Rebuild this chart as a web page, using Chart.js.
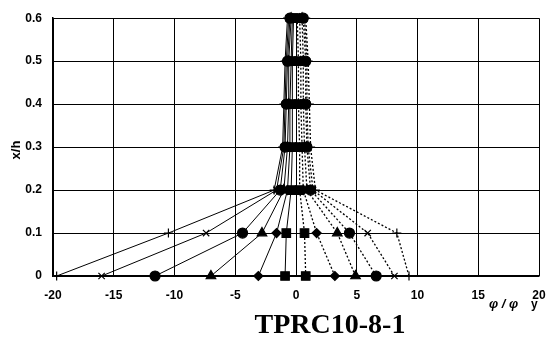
<!DOCTYPE html>
<html>
<head>
<meta charset="utf-8">
<script src="https://cdn.jsdelivr.net/npm/chart.js@4/dist/chart.umd.min.js"></script>
<style>
  html, body { margin: 0; padding: 0; background: #fff; }
  #wrap { width: 559px; height: 338px; position: relative; }
</style>
</head>
<body>
<div id="wrap"><canvas id="chart"></canvas></div>
<script>
// 高さ位置 x/h
const heights = [0, 0.1, 0.2, 0.3, 0.4, 0.5, 0.6];

// 曲率分布 φ/φy (負側：実線)
const negCross   = [-19.7, -10.5, -1.8, -1.1, -1.0, -0.9, -0.7];
const negX       = [-16.0, -7.4, -1.6, -1.0, -0.9, -0.8, -0.6];
const negCircle  = [-11.6, -4.4, -1.3, -0.9, -0.8, -0.7, -0.5];
const negTri     = [-7.0, -2.8, -1.0, -0.7, -0.6, -0.6, -0.4];
const negDiamond = [-3.1, -1.6, -0.7, -0.5, -0.5, -0.4, -0.3];
const negSquare  = [-0.9, -0.8, -0.4, -0.3, -0.3, -0.3, -0.2];

// 曲率分布 φ/φy (正側：点線)
const posSquare  = [0.8, 0.7, 0.3, 0.3, 0.2, 0.2, 0.1];
const posDiamond = [3.2, 1.7, 0.6, 0.5, 0.4, 0.4, 0.3];
const posTri     = [4.9, 3.4, 0.9, 0.7, 0.6, 0.6, 0.5];
const posCircle  = [6.6, 4.4, 1.2, 0.9, 0.8, 0.8, 0.6];
const posX       = [8.1, 5.9, 1.4, 1.0, 0.9, 0.9, 0.7];
const posCross   = [9.3, 8.3, 1.6, 1.2, 1.1, 1.0, 0.8];

const xTicks = [-20, -15, -10, -5, 0, 5, 10, 15, 20];
const yTicks = [0, 0.1, 0.2, 0.3, 0.4, 0.5, 0.6];

// マーカーごとの大きさ
const markerSize = { cross: 4.5, crossRot: 4.5, circle: 5, triangle: 5.5, rectRot: 4.5, rect: 6 };

function makeSet(values, style, dotted) {
  return {
    data: values.map((v, i) => ({ x: v, y: heights[i] })),
    showLine: true,
    borderColor: "#000",
    backgroundColor: "#000",
    borderWidth: dotted ? 1.3 : 1,
    borderDash: dotted ? [2, 2] : [],
    pointStyle: style,
    pointRadius: markerSize[style],
    pointBorderWidth: 1.2,
    pointBorderColor: "#000",
    pointBackgroundColor: "#000",
    clip: false
  };
}

const datasets = [
  makeSet(negCross, "cross", false),
  makeSet(negX, "crossRot", false),
  makeSet(negCircle, "circle", false),
  makeSet(negTri, "triangle", false),
  makeSet(negDiamond, "rectRot", false),
  makeSet(negSquare, "rect", false),
  makeSet(posSquare, "rect", true),
  makeSet(posDiamond, "rectRot", true),
  makeSet(posTri, "triangle", true),
  makeSet(posCircle, "circle", true),
  makeSet(posX, "crossRot", true),
  makeSet(posCross, "cross", true)
];

// 軸ラベルと試験体名
const labelPlugin = {
  id: "labels",
  afterDraw(chart) {
    const ctx = chart.ctx;
    ctx.save();
    ctx.fillStyle = "#000";

    // 縦軸タイトル
    ctx.font = "bold 13px Arial, 'Liberation Sans', sans-serif";
    ctx.translate(16, 150);
    ctx.rotate(-Math.PI / 2);
    ctx.textAlign = "center";
    ctx.textBaseline = "middle";
    ctx.fillText("x/h", 0, 0);
    ctx.setTransform(1, 0, 0, 1, 0, 0);

    // 横軸タイトル
    ctx.font = "italic bold 13px Arial, 'Liberation Sans', sans-serif";
    ctx.textAlign = "left";
    ctx.textBaseline = "alphabetic";
    ctx.fillText("φ / φ", 489, 308);
    ctx.font = "bold 12px Arial, 'Liberation Sans', sans-serif";
    ctx.fillText("y", 531, 308);

    // 試験体名
    ctx.font = "bold 28px 'Liberation Serif', 'Times New Roman', serif";
    ctx.textAlign = "center";
    ctx.fillText("TPRC10-8-1", 330, 333);
    ctx.restore();
  }
};

new Chart(document.getElementById("chart"), {
  type: "scatter",
  data: { datasets: datasets },
  options: {
    responsive: true,
    maintainAspectRatio: false,
    animation: false,
    layout: { padding: { top: 12, right: 20, bottom: 0, left: 0 } },
    plugins: {
      legend: { display: false },
      tooltip: { enabled: false }
    },
    scales: {
      x: {
        type: "linear",
        min: -20,
        max: 20,
        afterBuildTicks: axis => { axis.ticks = xTicks.map(v => ({ value: v })); },
        afterFit: axis => { axis.height = 62; },
        ticks: {
          color: "#000",
          padding: 12,
          maxRotation: 0,
          font: { family: "Arial, 'Liberation Sans', sans-serif", size: 12, weight: "bold" }
        },
        grid: { color: "#000", lineWidth: 1, drawTicks: false },
        border: { color: "#000", width: 1.5 }
      },
      y: {
        type: "linear",
        min: 0,
        max: 0.6,
        afterBuildTicks: axis => { axis.ticks = yTicks.map(v => ({ value: v })); },
        afterFit: axis => { axis.width = 53; },
        ticks: {
          color: "#000",
          padding: 11,
          font: { family: "Arial, 'Liberation Sans', sans-serif", size: 12, weight: "bold" },
          callback: v => String(Math.round(v * 10) / 10)
        },
        grid: { color: "#000", lineWidth: 1, drawTicks: false },
        border: { color: "#000", width: 1.5 }
      }
    }
  },
  plugins: [labelPlugin]
});
</script>
</body>
</html>
